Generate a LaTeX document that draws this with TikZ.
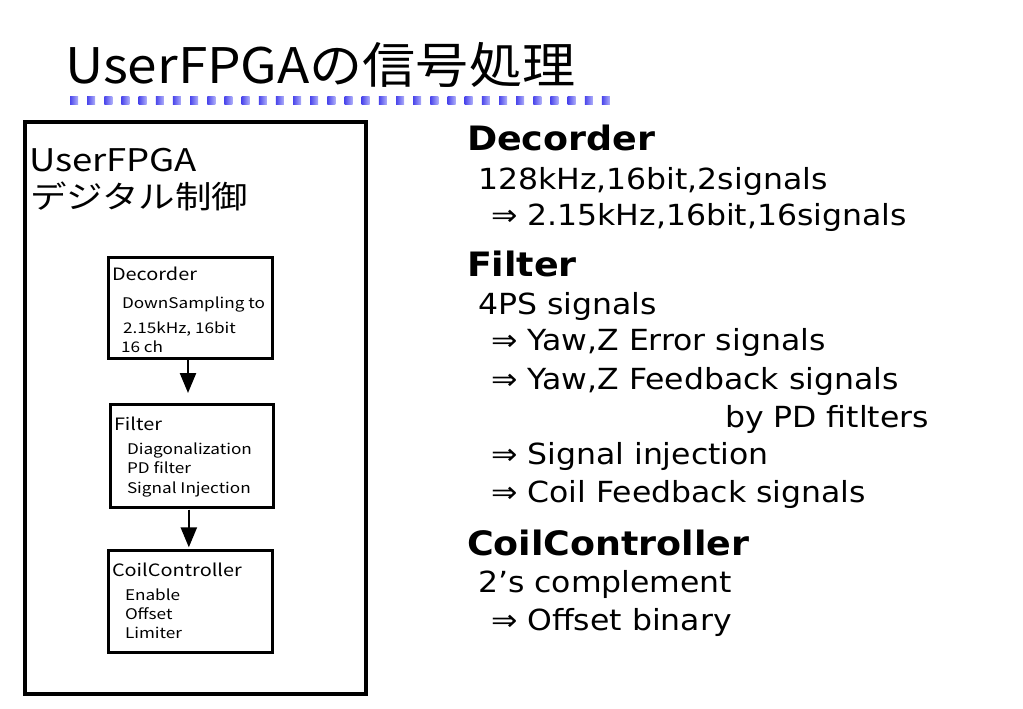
\documentclass[tikz,border=0pt]{standalone}
\usepackage{fontspec}
\usetikzlibrary{arrows.meta}
\setmainfont{DejaVu Sans}[FakeStretch=1.084]
\newfontfamily\jptitle{Noto Sans CJK JP}[FakeStretch=1.084]
\newfontfamily\jpleft{Noto Sans CJK JP}[FakeStretch=1.17]
\definecolor{sqA}{RGB}{75,70,235}
\definecolor{sqB}{RGB}{175,175,250}
\tikzset{
  txt/.style={anchor=base west, inner sep=0pt, outer sep=0pt},
  head/.style={txt, font=\fontsize{25.2pt}{28pt}\selectfont\bfseries},
  body/.style={txt, font=\fontsize{21.8pt}{26pt}\selectfont},
  lbig/.style={txt, font=\jpleft\fontsize{23.4pt}{26pt}\selectfont},
  bhead/.style={txt, font=\jpleft\fontsize{12.75pt}{15pt}\selectfont},
  bsub/.style={txt, font=\jpleft\fontsize{11pt}{13pt}\selectfont},
  ibox/.style={draw, line width=2.25pt, anchor=north west, inner sep=0pt, outer sep=0pt},
  arr/.style={line width=1.8pt, -{Triangle[length=15pt, width=12pt]}}
}
\begin{document}
\begin{tikzpicture}[x=0.75pt, y=-0.75pt]
\useasboundingbox (0,0) rectangle (1023,708);
% title
\node[txt, font=\jptitle\fontsize{36.75pt}{40pt}\selectfont] (title) at (65,83) {UserFPGAの信号処理};
\foreach \i in {0,...,31}
  \shade[left color=sqA, right color=sqB] ({70+\i*17.16},96) rectangle ++(8,8);
% left panel
\node[draw, line width=3pt, anchor=north west, inner sep=0pt, minimum width=256.1pt, minimum height=429.4pt] (outer) at (23,119.5) {};
\node[lbig] (l1) at (29,171) {UserFPGA};
\node[lbig] (l2) at (30,208) {デジタル制御};
\node[ibox, minimum width=123pt, minimum height=75.75pt] (dec) at (108,257) {};
\node[ibox, minimum width=122.25pt, minimum height=77.25pt] (fil) at (110,404) {};
\node[ibox, minimum width=123pt, minimum height=76.5pt] (coil) at (108,550) {};
\node[bhead] (d0) at (112,280) {Decorder};
\node[bsub] (d1) at (122,308) {DownSampling to};
\node[bsub] (d2) at (123,333) {2.15kHz, 16bit};
\node[bsub] (d3) at (121,352) {16 ch};
\node[bhead] (f0) at (114,430) {Filter};
\node[bsub] (f1) at (127,454) {Diagonalization};
\node[bsub] (f2) at (127,473) {PD filter};
\node[bsub] (f3) at (127,493) {Signal Injection};
\node[bhead] (c0) at (112,576) {CoilController};
\node[bsub] (c1) at (125,600) {Enable};
\node[bsub] (c2) at (125,619) {Offset};
\node[bsub] (c3) at (125,638) {Limiter};
\draw[arr, shorten >=8.25pt] ([xshift=-1.5pt]dec.south) -- ([xshift=-1.5pt]dec.south |- fil.north);
\draw[arr, shorten <=2pt, shorten >=2pt] ([xshift=-2pt]fil.south) -- ([xshift=-2pt]fil.south |- coil.north);
% right text
\node[head] (h1) at (467,150) {Decorder};
\node[body] (t1) at (478,189) {128kHz,16bit,2signals};
\node[body] (t2) at (491,225) {⇒ 2.15kHz,16bit,16signals};
\node[head] (h2) at (467,276) {Filter};
\node[body] (t3) at (478,314) {4PS signals};
\node[body] (t4) at (491,350) {⇒ Yaw,Z Error signals};
\node[body] (t5) at (491,389) {⇒ Yaw,Z Feedback signals};
\node[body] (t6) at (725,427) {by PD fitlters};
\node[body] (t7) at (491,464) {⇒ Signal injection};
\node[body] (t8) at (491,502) {⇒ Coil Feedback signals};
\node[head] (h3) at (467,555) {CoilController};
\node[body] (t9) at (478,592) {2’s complement};
\node[body] (t10) at (491,630) {⇒ Offset binary};
\end{tikzpicture}
\end{document}
